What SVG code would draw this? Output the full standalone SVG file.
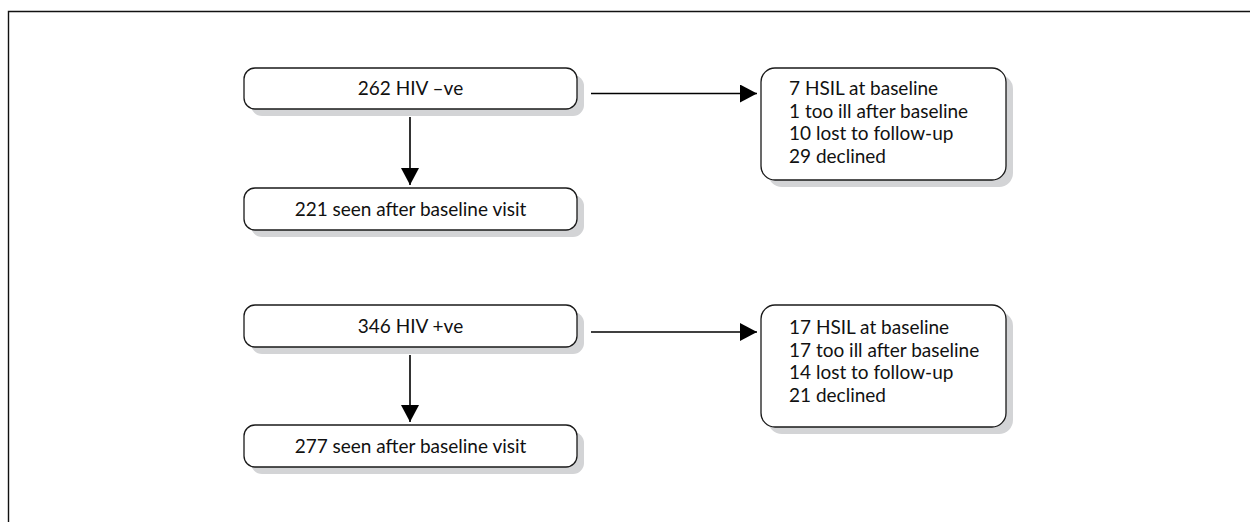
<svg xmlns="http://www.w3.org/2000/svg" width="1250" height="522" viewBox="0 0 1250 522">
  <style>
    .frame { fill: none; stroke: #111; stroke-width: 1.4; }
    .box { fill: #fff; stroke: #1a1a1a; stroke-width: 1.3; }
    .shadow { fill: #d3d4d6; stroke: none; }
    .lbl { font-family: Lato, "Liberation Sans", sans-serif; font-size: 19px; fill: #111; }
    .mid { text-anchor: middle; }
    .edge { fill: none; stroke: #000; stroke-width: 1.6; }
  </style>
  <defs>
    <marker id="head" viewBox="0 0 17 18" refX="17" refY="9" markerWidth="17" markerHeight="18" markerUnits="userSpaceOnUse" orient="auto">
      <path d="M0,0 L17,9 L0,18 Z" fill="#000"/>
    </marker>
  </defs>

  <rect width="1250" height="522" fill="#fff"/>
  <!-- outer frame: left and top rules -->
  <path class="frame" d="M8.5,522 L8.5,11.5 L1250,11.5"/>

  <!-- HIV negative cohort -->
  <g id="neg-total">
    <rect class="shadow" x="251" y="75" width="333" height="41" rx="11"/>
    <rect class="box" x="244" y="68" width="333" height="41" rx="11"/>
    <text class="lbl mid" x="410.5" y="95">262 HIV –ve</text>
  </g>
  <g id="neg-seen">
    <rect class="shadow" x="251" y="195" width="333" height="42" rx="11"/>
    <rect class="box" x="244" y="188" width="333" height="42" rx="11"/>
    <text class="lbl mid" x="410.5" y="215.5">221 seen after baseline visit</text>
  </g>
  <g id="neg-excluded">
    <rect class="shadow" x="768" y="75" width="245" height="112" rx="14"/>
    <rect class="box" x="761" y="68" width="245" height="112" rx="14"/>
    <text class="lbl" x="789" y="95">7 HSIL at baseline</text>
    <text class="lbl" x="789" y="117.5">1 too ill after baseline</text>
    <text class="lbl" x="789" y="140">10 lost to follow-up</text>
    <text class="lbl" x="789" y="162.5">29 declined</text>
  </g>

  <!-- HIV positive cohort -->
  <g id="pos-total">
    <rect class="shadow" x="251" y="312" width="333" height="42" rx="11"/>
    <rect class="box" x="244" y="305" width="333" height="42" rx="11"/>
    <text class="lbl mid" x="410.5" y="333">346 HIV +ve</text>
  </g>
  <g id="pos-seen">
    <rect class="shadow" x="251" y="432" width="333" height="42" rx="11"/>
    <rect class="box" x="244" y="425" width="333" height="42" rx="11"/>
    <text class="lbl mid" x="410.5" y="453">277 seen after baseline visit</text>
  </g>
  <g id="pos-excluded">
    <rect class="shadow" x="768" y="312" width="245" height="122" rx="14"/>
    <rect class="box" x="761" y="305" width="245" height="122" rx="14"/>
    <text class="lbl" x="789" y="334">17 HSIL at baseline</text>
    <text class="lbl" x="789" y="356.5">17 too ill after baseline</text>
    <text class="lbl" x="789" y="379">14 lost to follow-up</text>
    <text class="lbl" x="789" y="401.5">21 declined</text>
  </g>

  <!-- connectors -->
  <g id="connectors">
    <path class="edge" d="M410,117 L410,185" marker-end="url(#head)"/>
    <path class="edge" d="M591,93.5 L757,93.5" marker-end="url(#head)"/>
    <path class="edge" d="M410,355 L410,422" marker-end="url(#head)"/>
    <path class="edge" d="M591,332 L757,332" marker-end="url(#head)"/>
  </g>
</svg>
